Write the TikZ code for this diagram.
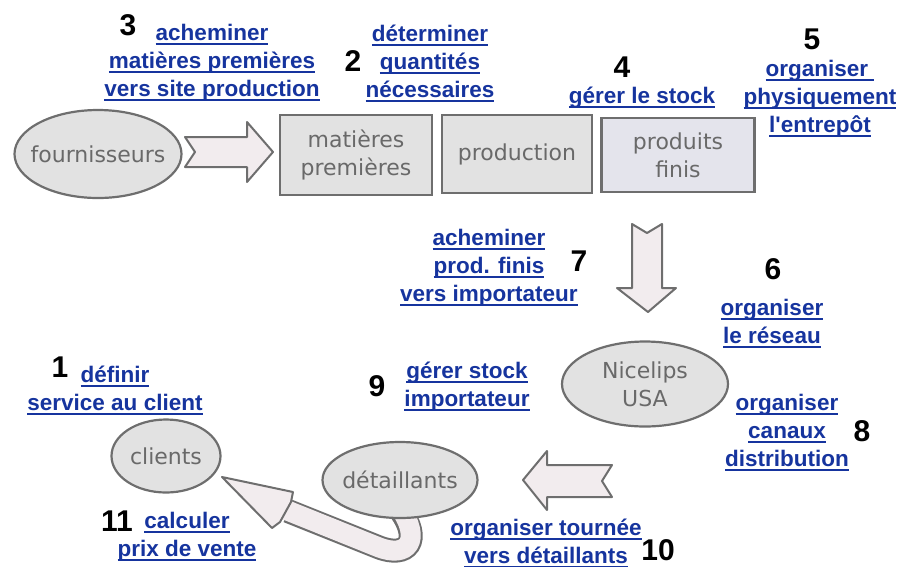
\documentclass[tikz,border=0pt]{standalone}
\usepackage{fontspec}
\setmainfont{DejaVu Sans}
\newfontfamily\numfont{Liberation Sans}
\newfontfamily\lkfont{Liberation Sans}
\usetikzlibrary{shapes.geometric}
\definecolor{lk}{RGB}{22,52,158}
\definecolor{ntext}{RGB}{105,105,105}
\definecolor{nfill}{RGB}{226,226,226}
\definecolor{pfill}{RGB}{228,228,236}
\definecolor{nborder}{RGB}{110,110,110}
\definecolor{afill}{RGB}{242,236,238}
\newcommand\lnk[1]{\setbox0\hbox{#1}\rlap{\vrule width\wd0 height -2.5pt depth 4.5pt}\box0}
\newcommand\zw[1]{\makebox[0pt]{#1}}
\tikzset{
  lbl/.style={text=lk, font=\lkfont\bfseries\fontsize{22.5}{28}\selectfont, align=center, inner sep=0pt},
  num/.style={text=black, font=\numfont\bfseries\fontsize{30}{30}\selectfont, inner sep=0pt},
  oval/.style={ellipse, draw=nborder, line width=2.2pt, fill=nfill, text=ntext, inner sep=0pt,
     font=\fontsize{22}{28}\selectfont, align=center},
  boxn/.style={rectangle, draw=nborder, line width=2.2pt, fill=nfill, text=ntext, inner sep=0pt,
     font=\fontsize{22}{28}\selectfont, align=center},
  blockarrow/.style={draw=nborder, line width=2pt, fill=afill, line join=round}
}
\begin{document}
\begin{tikzpicture}[x=1pt,y=-1pt]
\useasboundingbox (0,0) rectangle (903,566);
% nodes
\node[oval, minimum width=167pt, minimum height=88pt] (four) at (98,154) {\zw{fournisseurs}};
\node[boxn, minimum width=152pt, minimum height=80pt] (mp) at (356,155) {matières\\premières};
\node[boxn, minimum width=150pt, minimum height=78pt] (prod) at (517,154) {production};
\node[boxn, fill=pfill, minimum width=153pt, minimum height=74pt] (pf) at (678,155) {produits\\finis};
\node[oval, minimum width=166pt, minimum height=85pt] (nice) at (645,384) {\zw{Nicelips}\\\zw{USA}};
\node[oval, minimum width=109pt, minimum height=73pt] (cli) at (166,456) {\zw{clients}};
% block arrows
\draw[blockarrow] (185,137) -- (247,137) -- (247,122) -- (273,152) -- (247,182) -- (247,167) -- (185,167) -- (195,152) -- cycle;
\draw[blockarrow] (632,224) -- (647,233) -- (662,224) -- (662,288) -- (676,288) -- (648,312) -- (617,288) -- (632,288) -- cycle;
\draw[blockarrow] (523,480) -- (547,451) -- (547,465) -- (612,465) -- (602,481) -- (612,497) -- (547,497) -- (547,510) -- cycle;
% curved arrow detaillants -> clients
\draw[nborder, line width=24pt, line cap=butt] (288,511) -- (378,547) .. controls (408,559) and (422,540) .. (400,510);
\draw[afill, line width=20pt, line cap=butt] (286,510) -- (378,547) .. controls (408,559) and (422,540) .. (400,508);
\draw[blockarrow] (222,477) -- (293,492) -- (291,502) -- (280,522) -- (272,528) -- cycle;
\node[oval, minimum width=155pt, minimum height=76pt] (det) at (400,480) {\zw{détaillants}};
% labels
\node[num] (n3) at (128,25) {3};
\node[lbl] (l3) at (212,63) {\lnk{acheminer}\\\lnk{matières premières}\\\lnk{vers site production}};
\node[num] (n2) at (353,61) {2};
\node[lbl] (l2) at (430,63) {\lnk{déterminer}\\\lnk{quantités}\\\lnk{nécessaires}};
\node[num] (n4) at (622,67) {4};
\node[lbl] (l4) at (642,98) {\lnk{gérer le stock}};
\node[num] (n5) at (812,39) {5};
\node[lbl] (l5) at (820,99) {\lnk{organiser }\\\lnk{physiquement}\\\lnk{l'entrepôt}};
\node[lbl] (l7) at (489,268) {\lnk{acheminer}\\\lnk{prod. finis}\\\lnk{vers importateur}};
\node[num] (n7) at (579,261) {7};
\node[num] (n6) at (773,269) {6};
\node[lbl] (l6) at (772,324) {\lnk{organiser}\\\lnk{le réseau}};
\node[num] (n1) at (60,367) {1};
\node[lbl] (l1) at (115,390) {\lnk{définir}\\\lnk{service au client}};
\node[num] (n9) at (377,386) {9};
\node[lbl] (l9) at (467,387) {\lnk{gérer stock}\\\lnk{importateur}};
\node[lbl] (l8) at (787,433) {\lnk{organiser}\\\lnk{canaux}\\\lnk{distribution}};
\node[num] (n8) at (862,431) {8};
\node[lbl] (l10) at (546,543) {\lnk{organiser tournée}\\\lnk{vers détaillants}};
\node[num] (n10) at (658,550) {10};
\node[num] (n11) at (117,521) {11};
\node[lbl] (l11) at (187,537) {\lnk{calculer}\\\lnk{prix de vente}};
\end{tikzpicture}
\end{document}
